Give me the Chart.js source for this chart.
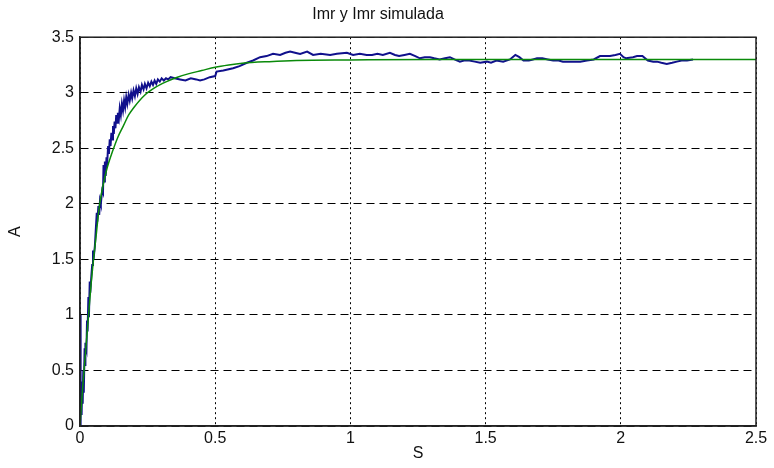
<!DOCTYPE html>
<html>
<head>
<meta charset="utf-8">
<script src="https://cdn.jsdelivr.net/npm/chart.js@4"></script>
<style>
  html, body { margin: 0; padding: 0; background: #fff; }
  #wrap { width: 774px; height: 468px; }
</style>
</head>
<body>
<div id="wrap"><canvas id="imrChart" width="774" height="468"></canvas></div>
<script>
// medida (azul) : tiempo en s, corriente en A
var blueT = [0,0.002,0.002,0.003,0.006,0.008,0.01,0.012,0.014,0.017,0.019,0.02,0.024,0.026,0.028,0.031,0.033,0.036,0.038,0.042,
  0.045,0.048,0.05,0.055,0.058,0.062,0.064,0.068,0.071,0.074,0.077,0.082,0.085,0.087,0.089,0.092,0.095,0.098,0.1,0.104,
  0.107,0.11,0.113,0.116,0.119,0.122,0.125,0.128,0.131,0.134,0.137,0.14,0.144,0.147,0.151,0.155,0.159,0.163,0.167,0.171,
  0.175,0.18,0.184,0.189,0.193,0.198,0.203,0.208,0.213,0.218,0.224,0.229,0.235,0.24,0.246,0.252,0.258,0.264,0.27,0.276,
  0.282,0.288,0.295,0.302,0.31,0.318,0.326,0.335,0.35,0.37,0.39,0.41,0.43,0.444,0.46,0.48,0.5,0.505,0.53,0.566,
  0.59,0.617,0.64,0.666,0.69,0.714,0.74,0.76,0.777,0.795,0.814,0.84,0.862,0.89,0.925,0.95,0.987,1.01,1.035,1.06,
  1.08,1.1,1.12,1.146,1.165,1.18,1.2,1.22,1.24,1.257,1.275,1.294,1.31,1.33,1.35,1.368,1.385,1.405,1.42,1.44,
  1.46,1.48,1.505,1.52,1.54,1.565,1.59,1.61,1.625,1.64,1.66,1.675,1.69,1.71,1.73,1.75,1.77,1.786,1.81,1.83,
  1.85,1.875,1.9,1.923,1.94,1.96,1.98,1.997,2.01,2.02,2.045,2.06,2.08,2.1,2.12,2.134,2.15,2.17,2.19,2.207,
  2.225,2.245,2.267];
var blueA = [0,0,1.0,0.15,0.1,0.4,0.2,0.5,0.3,0.7,0.55,0.75,0.7,0.95,0.85,1.16,0.98,1.3,1.2,1.35,
  1.45,1.58,1.5,1.62,1.75,1.92,1.84,1.98,1.9,2.03,2.0,2.12,2.1,2.35,2.2,2.38,2.25,2.42,2.34,2.52,
  2.45,2.58,2.52,2.64,2.58,2.7,2.63,2.74,2.68,2.8,2.73,2.82,2.77,2.86,2.8,2.9,2.84,2.93,2.87,2.96,
  2.9,2.98,2.93,3.0,2.95,3.02,2.97,3.04,2.99,3.05,3.01,3.07,3.03,3.08,3.04,3.09,3.06,3.1,3.07,3.11,
  3.08,3.12,3.1,3.13,3.11,3.13,3.12,3.14,3.13,3.12,3.11,3.13,3.12,3.11,3.12,3.14,3.15,3.19,3.2,3.22,
  3.24,3.27,3.29,3.32,3.33,3.35,3.34,3.36,3.37,3.36,3.35,3.37,3.34,3.35,3.34,3.35,3.36,3.34,3.35,3.34,
  3.34,3.35,3.34,3.36,3.34,3.33,3.34,3.35,3.33,3.31,3.32,3.32,3.31,3.30,3.31,3.32,3.30,3.28,3.29,3.29,
  3.28,3.27,3.28,3.27,3.29,3.28,3.30,3.34,3.32,3.29,3.29,3.30,3.31,3.31,3.30,3.29,3.29,3.28,3.28,3.28,
  3.28,3.29,3.30,3.33,3.33,3.33,3.34,3.35,3.32,3.31,3.32,3.33,3.33,3.29,3.28,3.28,3.27,3.26,3.27,3.28,
  3.29,3.29,3.30];

// simulada (verde)
var greenT = [0,0.01,0.02,0.03,0.04,0.05,0.06,0.07,0.08,0.09,0.1,0.12,0.14,0.16,0.18,0.2,0.24,0.28,0.32,0.36,
  0.4,0.45,0.5,0.55,0.6,0.7,0.8,1.0,1.3,2.5];
var greenA = [0,0.35,0.65,0.95,1.25,1.5,1.72,1.95,2.1,2.22,2.32,2.47,2.6,2.7,2.8,2.87,2.98,3.05,3.1,3.14,
  3.17,3.2,3.23,3.25,3.265,3.28,3.29,3.295,3.3,3.3];

var xTicks = [0, 0.5, 1, 1.5, 2, 2.5];
var yTicks = [0, 0.5, 1, 1.5, 2, 2.5, 3, 3.5];

function pts(t, a) {
  return t.map(function (v, i) { return {x: v, y: a[i]}; });
}

// caja alrededor del area de grafico (estilo matlab)
var boxPlugin = {
  id: 'box',
  afterDraw: function (chart) {
    var c = chart.ctx, a = chart.chartArea;
    c.save();
    c.strokeStyle = '#222';
    c.lineWidth = 1.5;
    c.strokeRect(a.left, a.top, a.right - a.left, a.bottom - a.top);
    c.restore();
  }
};

var font = "'Liberation Sans', Arial, sans-serif";
Chart.defaults.font.family = font;
Chart.defaults.color = '#111';

var ctx = document.getElementById('imrChart');
var chart = new Chart(ctx, {
  type: 'scatter',
  data: {
    datasets: [{
      label: 'Imr',
      data: pts(blueT, blueA),
      showLine: true,
      borderColor: '#10108c',
      borderWidth: 2,
      pointRadius: 0,
      tension: 0,
      order: 2
    }, {
      label: 'Imr simulada',
      data: pts(greenT, greenA),
      showLine: true,
      borderColor: '#0a8a0a',
      borderWidth: 1.5,
      pointRadius: 0,
      cubicInterpolationMode: 'monotone',
      order: 1
    }]
  },
  options: {
    responsive: false,
    animation: false,
    layout: {padding: {left: 0, right: 18, top: 0, bottom: 0}},
    plugins: {
      legend: {display: false},
      tooltip: {enabled: false},
      title: {
        display: true,
        text: 'Imr y Imr simulada',
        color: '#111',
        font: {size: 16, weight: 'normal'},
        padding: {top: 5, bottom: 13}
      }
    },
    scales: {
      x: {
        type: 'linear',
        min: 0, max: 2.5,
        afterBuildTicks: function (s) { s.ticks = xTicks.map(function (v) { return {value: v}; }); },
        ticks: {font: {size: 16}, padding: 3, color: '#111', maxRotation: 0,
          callback: function (v) { return String(v); }},
        grid: {color: '#000', lineWidth: 1, drawTicks: false},
        border: {display: true, color: '#222', width: 1.5, dash: [2, 3]},
        title: {display: true, text: 'S', font: {size: 16}, color: '#111', padding: {top: 0, bottom: 5}},
        afterFit: function (s) { s.height = 42; }
      },
      y: {
        type: 'linear',
        min: 0, max: 3.5,
        afterBuildTicks: function (s) { s.ticks = yTicks.map(function (v) { return {value: v}; }); },
        ticks: {font: {size: 16}, padding: 6, color: '#111',
          callback: function (v) { return String(v); }},
        grid: {color: '#000', lineWidth: 1, drawTicks: false},
        border: {display: true, color: '#222', width: 1.5, dash: [8, 5]},
        title: {display: true, text: 'A', font: {size: 16}, color: '#111', padding: {top: 6, bottom: 0}},
        afterFit: function (s) { s.width = 80; }
      }
    }
  },
  plugins: [boxPlugin]
});
</script>
</body>
</html>
